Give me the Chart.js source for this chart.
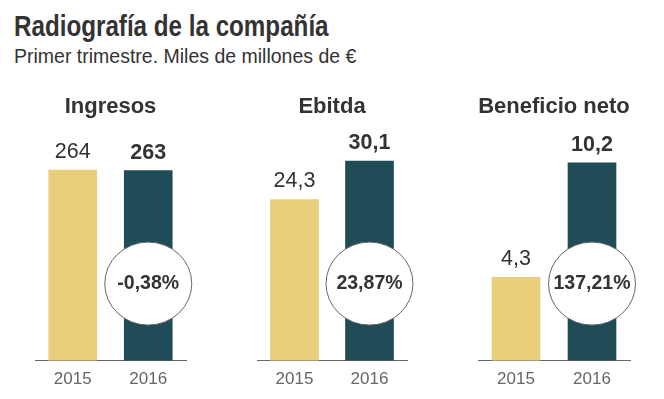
<!DOCTYPE html>
<html lang="es">
<head>
<meta charset="utf-8">
<title>Radiografía de la compañía</title>
<script src="https://cdn.jsdelivr.net/npm/chart.js@4.4.1/dist/chart.umd.min.js"></script>
<style>
  body { margin: 0; background: #fff; }
  #lienzo { position: relative; width: 664px; height: 399px; overflow: hidden; }
  #titulo {
    position: absolute; left: 14px; top: 11px; margin: 0;
    font: bold 29.5px/29px "Liberation Sans", Arial, sans-serif;
    color: #333; white-space: nowrap;
    transform: scaleX(0.82); transform-origin: left top;
  }
  #subtitulo {
    position: absolute; left: 14px; top: 46px; margin: 0;
    font: 19.5px/20px "Liberation Sans", Arial, sans-serif;
    color: #333;
  }
  canvas { position: absolute; top: 80px; }
</style>
</head>
<body>
<div id="lienzo">
  <h1 id="titulo">Radiografía de la compañía</h1>
  <p id="subtitulo">Primer trimestre. Miles de millones de €</p>
  <canvas id="c1" width="181" height="319" style="left:20px"></canvas>
  <canvas id="c2" width="180" height="319" style="left:242px"></canvas>
  <canvas id="c3" width="182" height="319" style="left:463px"></canvas>
</div>
<script>
// === Datos ===
const anios = ['2015', '2016'];
const paneles = ['Ingresos', 'Ebitda', 'Beneficio neto'];
const ingresos = [264, 263];
const ebitda = [24.3, 30.1];
const beneficio = [4.3, 10.2];
const variaciones = ['-0,38%', '23,87%', '137,21%'];
const maximos = [277.8, 30.25, 10.35];

const amarillo = '#E9CF79';
const verde = '#1F4C57';
const fuente = '"Liberation Sans", Arial, sans-serif';

function formato(v) {
    return String(v).replace('.', ',');
}

// Etiquetas de valor y circulo con la variacion
const etiquetas = {
    id: 'etiquetas',
    afterDatasetsDraw(chart, args, opts) {
        const ctx = chart.ctx;
        const meta = chart.getDatasetMeta(0);
        const valores = chart.data.datasets[0].data;
        ctx.save();
        ctx.fillStyle = '#333';
        ctx.textAlign = 'center';
        ctx.textBaseline = 'alphabetic';
        meta.data.forEach((bar, i) => {
            ctx.font = (i === 1 ? 'bold ' : '') + '21.5px ' + fuente;
            ctx.fillText(formato(valores[i]), bar.x, bar.y - 12);
        });

        const ultima = meta.data[1];
        const cy = chart.chartArea.bottom - 77;
        ctx.beginPath();
        ctx.ellipse(ultima.x, cy, 43.5, 41.5, 0, 0, Math.PI * 2);
        ctx.fillStyle = '#fff';
        ctx.fill();
        ctx.strokeStyle = '#666';
        ctx.lineWidth = 1;
        ctx.stroke();

        ctx.fillStyle = '#333';
        ctx.font = 'bold 19.5px ' + fuente;
        ctx.textBaseline = 'middle';
        ctx.fillText(opts.texto, ultima.x, cy);
        ctx.restore();
    }
};

function crearGrafica(id, titulo, datos, maximo, variacion) {
    return new Chart(document.getElementById(id), {
        type: 'bar',
        data: {
            labels: anios,
            datasets: [{
                data: datos,
                backgroundColor: [amarillo, verde],
                barThickness: 48,
                borderWidth: 0
            }]
        },
        options: {
            responsive: false,
            animation: false,
            layout: { padding: { left: 15, right: 15, top: 0, bottom: 0 } },
            scales: {
                x: {
                    grid: { display: false, drawTicks: false },
                    border: { display: true, color: '#666', width: 1 },
                    ticks: { color: '#666', padding: 9, font: { family: fuente, size: 17 } }
                },
                y: { display: false, min: 0, max: maximo }
            },
            plugins: {
                legend: { display: false },
                tooltip: { enabled: false },
                title: {
                    display: true,
                    text: titulo,
                    color: '#333',
                    font: { family: fuente, size: 22, weight: 'bold' },
                    padding: { top: 14, bottom: 39.6 }
                },
                etiquetas: { texto: variacion }
            }
        },
        plugins: [etiquetas]
    });
}

crearGrafica('c1', paneles[0], ingresos, maximos[0], variaciones[0]);
crearGrafica('c2', paneles[1], ebitda, maximos[1], variaciones[1]);
crearGrafica('c3', paneles[2], beneficio, maximos[2], variaciones[2]);
</script>
</body>
</html>
